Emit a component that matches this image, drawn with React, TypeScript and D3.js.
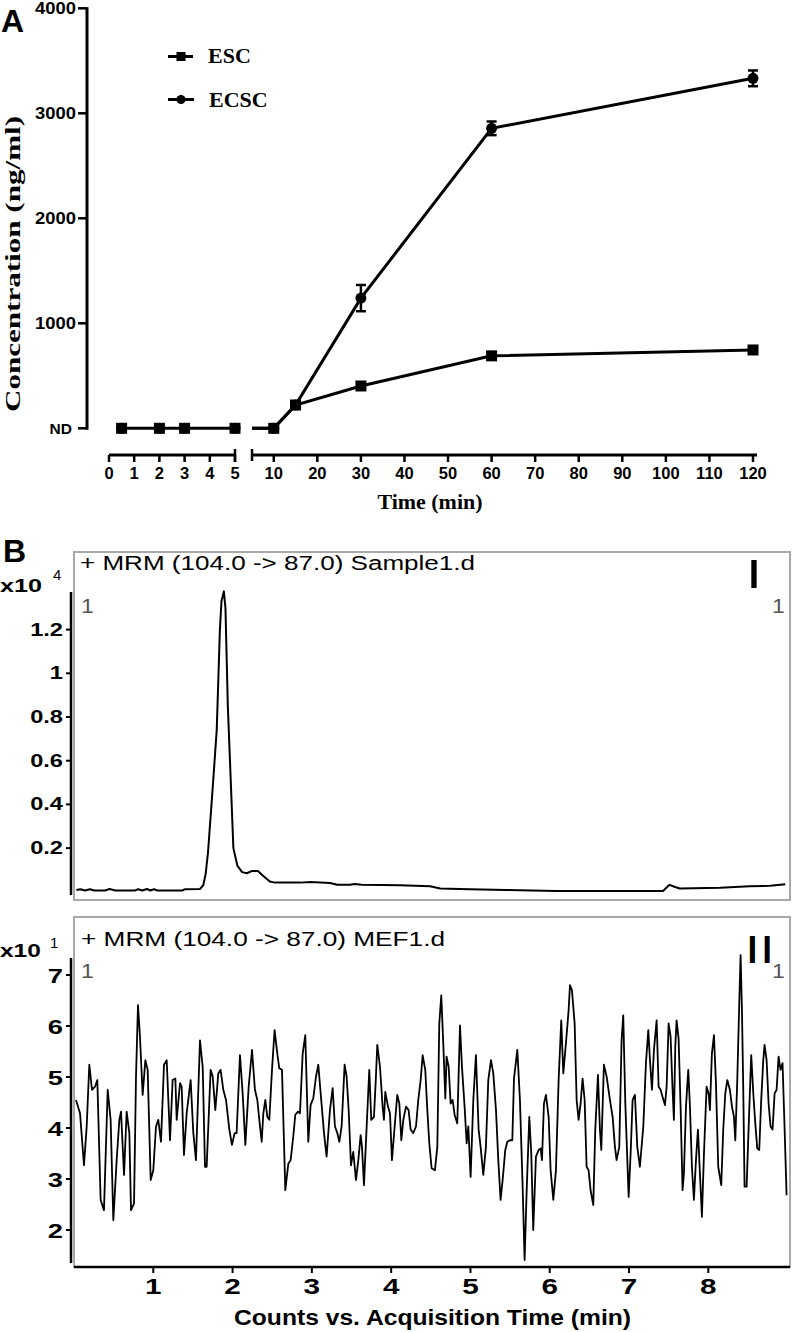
import React from "react";
import * as d3 from "d3";

// ---------- Panel A data ----------
const timePoints = [0.5, 2, 3, 5, 10, 15, 30, 60, 120];
const escValues = [0, 0, 0, 0, 0, 222, 403, 690, 746];
const ecscValues = [0, 0, 0, 0, 0, 222, 1240, 2857, 3333];
const ecscErrors = [0, 0, 0, 0, 0, 0, 125, 65, 75];
const yTicksA = [1000, 2000, 3000, 4000];
const xTicksLeft = [0, 1, 2, 3, 4, 5];
const xTicksRight = [10, 20, 30, 40, 50, 60, 70, 80, 90, 100, 110, 120];

// ---------- Panel B-I data (x10^4 counts) ----------
const sampleTime = [0.03, 0.08, 0.14, 0.2, 0.26, 0.39, 0.45, 0.52, 0.77, 0.81, 0.86, 0.92, 0.96, 1.01, 1.05, 1.37, 1.4, 1.59, 1.63, 1.66, 1.69, 1.75, 1.8, 1.84, 1.86, 1.89, 1.91, 1.94, 1.98, 2.01, 2.06, 2.12, 2.18, 2.24, 2.32, 2.38, 2.47, 2.53, 2.85, 2.98, 3.23, 3.32, 3.48, 3.54, 3.63, 4.11, 4.49, 4.62, 4.99, 5.45, 6.08, 7.43, 7.46, 7.51, 7.58, 7.64, 8.15, 8.52, 8.78, 8.97];
const sampleCounts = [0.008, 0.012, 0.006, 0.012, 0.006, 0.006, 0.013, 0.006, 0.006, 0.012, 0.006, 0.013, 0.006, 0.012, 0.006, 0.006, 0.012, 0.013, 0.03, 0.08, 0.18, 0.48, 0.74, 1.2, 1.33, 1.375, 1.3, 0.85, 0.48, 0.2, 0.12, 0.09, 0.085, 0.095, 0.095, 0.075, 0.047, 0.042, 0.042, 0.045, 0.04, 0.032, 0.032, 0.036, 0.032, 0.03, 0.025, 0.015, 0.012, 0.008, 0.004, 0.004, 0.015, 0.032, 0.022, 0.015, 0.018, 0.025, 0.028, 0.035];
const sampleYTicks = [0.2, 0.4, 0.6, 0.8, 1, 1.2];

// ---------- Panel B-II data (x10^1 counts) ----------
const mefPoints: [number, number][] = [
  [0.025,4.55],[0.076,4.29],[0.126,3.27],[0.160,4.03],[0.193,5.24],[0.227,4.75],[0.265,4.81],[0.294,4.94],[0.336,2.59],[0.378,2.39],[0.425,4.75],[0.462,4.16],[0.496,2.19],[0.538,3.37],[0.572,4.16],[0.593,4.32],[0.631,3.08],[0.664,4.32],[0.698,3.90],[0.719,2.39],[0.757,2.52],[0.782,5.01],[0.807,6.41],[0.832,5.79],[0.866,4.65],[0.900,5.33],[0.929,5.14],[0.967,2.98],[1.000,3.17],[1.034,4.03],[1.063,4.16],[1.097,3.73],[1.135,5.24],[1.169,5.33],[1.211,3.76],[1.244,4.94],[1.278,4.97],[1.295,4.16],[1.337,4.88],[1.358,4.81],[1.387,3.47],[1.421,4.29],[1.471,4.94],[1.505,3.90],[1.538,3.37],[1.589,5.72],[1.623,5.20],[1.652,3.24],[1.673,3.24],[1.723,5.14],[1.749,5.01],[1.782,4.35],[1.820,5.07],[1.849,5.14],[1.883,4.75],[1.917,4.55],[1.959,3.97],[1.992,3.67],[2.026,3.90],[2.051,3.90],[2.093,5.43],[2.127,4.68],[2.161,3.67],[2.203,4.81],[2.245,5.53],
  [2.282,4.75],[2.312,4.55],[2.337,4.16],[2.367,3.73],[2.388,4.29],[2.413,4.55],[2.438,4.22],[2.463,4.16],[2.497,5.14],[2.530,5.92],[2.564,5.46],[2.589,5.17],[2.623,5.14],[2.665,2.78],[2.703,3.30],[2.732,3.37],[2.766,3.84],[2.791,4.26],[2.825,4.32],[2.850,4.29],[2.884,5.46],[2.917,5.82],[2.955,3.73],[2.984,4.45],[3.018,4.58],[3.052,5.01],[3.081,5.24],[3.111,4.68],[3.153,3.90],[3.186,3.44],[3.228,4.35],[3.262,4.78],[3.291,4.03],[3.321,3.90],[3.346,3.73],[3.375,4.03],[3.413,5.24],[3.438,5.01],[3.464,4.35],[3.493,3.27],[3.522,3.53],[3.556,2.98],[3.586,3.37],[3.615,3.86],[3.632,3.63],[3.657,2.88],[3.691,4.03],[3.724,5.14],[3.749,4.16],[3.783,4.22],[3.808,5.01],[3.825,5.63],[3.859,5.20],[3.892,4.42],[3.909,4.16],[3.926,4.71],[3.960,4.42],[3.985,4.29],[4.010,3.37],[4.044,4.03],[4.077,4.65],[4.103,4.48],[4.128,3.76],[4.153,4.16],[4.187,4.42],[4.220,4.35],[4.246,3.97],[4.279,3.90],[4.313,4.03],[4.342,4.55],[4.372,4.94],[4.397,5.43],[4.430,5.14],[4.456,4.35],[4.481,3.70],[4.510,3.21],[4.552,3.17],
  [4.582,3.63],[4.607,6.05],[4.632,6.60],[4.657,5.66],[4.683,4.58],[4.699,5.40],[4.725,5.20],[4.750,4.48],[4.775,4.55],[4.800,4.26],[4.834,4.09],[4.868,6.01],[4.893,5.20],[4.926,4.42],[4.952,3.70],[4.973,4.03],[5.002,3.04],[5.036,4.55],[5.069,5.43],[5.103,3.97],[5.128,3.63],[5.162,3.08],[5.195,3.63],[5.225,4.94],[5.259,5.33],[5.288,5.07],[5.322,4.35],[5.351,3.37],[5.380,2.59],[5.406,2.98],[5.439,3.57],[5.465,3.73],[5.498,3.76],[5.528,3.76],[5.549,4.97],[5.591,5.53],[5.624,4.55],[5.658,2.85],[5.683,1.41],[5.708,2.72],[5.742,4.22],[5.767,3.50],[5.792,2.00],[5.826,3.44],[5.860,3.57],[5.885,3.60],[5.902,3.37],[5.927,4.48],[5.952,4.65],[5.986,4.22],[6.011,3.17],[6.045,2.59],[6.078,3.17],[6.112,4.94],[6.145,6.11],[6.171,5.07],[6.204,5.66],[6.238,6.31],[6.255,6.80],[6.280,6.70],[6.314,6.05],[6.339,4.55],[6.364,4.16],[6.389,4.48],[6.414,4.97],[6.440,4.55],[6.465,3.24],[6.490,3.17],[6.515,2.78],[6.549,2.49],[6.574,3.97],[6.608,5.04],[6.633,3.97],[6.650,3.57],[6.683,5.24],[6.717,5.01],[6.759,4.55],
  [6.793,4.22],[6.822,3.63],[6.843,3.37],[6.877,3.63],[6.906,5.72],[6.927,6.21],[6.953,4.48],[6.995,2.65],[7.020,3.50],[7.045,4.55],[7.074,4.65],[7.104,3.63],[7.137,3.24],[7.180,4.03],[7.213,5.27],[7.243,5.92],[7.264,5.33],[7.289,4.75],[7.314,5.53],[7.348,6.11],[7.373,4.81],[7.398,4.75],[7.423,4.61],[7.453,4.45],[7.474,4.81],[7.499,6.05],[7.524,5.79],[7.549,4.75],[7.566,4.16],[7.583,5.59],[7.600,6.11],[7.625,5.75],[7.650,4.42],[7.675,2.78],[7.692,3.11],[7.718,4.42],[7.747,5.14],[7.768,4.42],[7.793,3.24],[7.818,2.59],[7.844,3.37],[7.869,3.97],[7.894,3.11],[7.919,2.26],[7.945,3.50],[7.978,4.81],[8.003,4.68],[8.020,4.35],[8.045,5.46],[8.071,5.82],[8.096,4.88],[8.125,3.24],[8.163,2.88],[8.188,3.97],[8.214,4.68],[8.239,4.94],[8.272,4.75],[8.298,4.42],[8.323,4.22],[8.340,3.76],[8.365,4.94],[8.390,6.44],[8.407,7.39],[8.424,6.31],[8.440,4.81],[8.457,2.85],[8.483,2.85],[8.516,4.35],[8.541,5.43],[8.567,4.68],[8.592,4.09],[8.617,3.60],[8.642,3.57],[8.667,4.55],[8.693,5.33],[8.709,5.63],[8.735,5.33],[8.760,4.48],[8.785,4.03],[8.810,3.97],[8.836,4.68],[8.861,4.75],[8.886,5.40],[8.911,5.14],[8.936,5.27],[8.961,4.03],[8.987,2.68],
];
const mefYTicks = [2, 3, 4, 5, 6, 7];
const timeTicksB = [1, 2, 3, 4, 5, 6, 7, 8];

const SANS = "'Liberation Sans', Arial, Helvetica, sans-serif";
const SERIF = "'Liberation Serif', 'Times New Roman', serif";

type TP = {
  x: number; y: number; size: number; children: React.ReactNode;
  weight?: string; anchor?: string; family?: string; fill?: string;
  sx?: number; rotate?: number; len?: number;
};
function T({ x, y, size, children, weight = "normal", anchor = "start", family = SANS, fill = "#000", sx = 1, rotate = 0, len }: TP) {
  return (
    <text
      transform={`translate(${x},${y}) rotate(${rotate}) scale(${sx},1)`}
      fontSize={size}
      fontWeight={weight}
      fontFamily={family}
      textAnchor={anchor as any}
      fill={fill}
      textLength={len}
      lengthAdjust={len ? "spacingAndGlyphs" : undefined}
    >
      {children}
    </text>
  );
}

export default function App() {
  // ---------- Panel A scales ----------
  const yA = d3.scaleLinear().domain([0, 4000]).range([428.3, 8.3]);
  const xL = d3.scaleLinear().domain([0, 5]).range([109, 235]);
  const xR = d3.scaleLinear().domain([5, 120]).range([252, 753]);
  const xA = (t: number) => (t <= 5 ? xL(t) : xR(t));
  const axisYA = 455;

  const leftIdx = timePoints.map((t, i) => i).filter((i) => timePoints[i] <= 5);
  const rightIdx = timePoints.map((t, i) => i).filter((i) => timePoints[i] >= 5);

  const lineL = d3.line<number>().x((i) => xL(timePoints[i])).y((i) => yA(escValues[i]));
  const lineRE = d3.line<number>().x((i) => xR(timePoints[i])).y((i) => yA(escValues[i]));
  const lineRC = d3.line<number>().x((i) => xR(timePoints[i])).y((i) => yA(ecscValues[i]));

  // ---------- Panel B scales ----------
  const xB = d3.scaleLinear().domain([0, 9.03]).range([74, 790]);
  const yI = d3.scaleLinear().domain([0, 1.2]).range([891.8, 629.6]);
  const yII = d3.scaleLinear().domain([2, 7]).range([1230, 975]);
  const lineI = d3.line<number>().x((i) => xB(sampleTime[i])).y((i) => yI(sampleCounts[i]));
  const lineII = d3.line<[number, number]>().x((d) => xB(d[0])).y((d) => yII(d[1]));

  const sq = 11;
  return (
    <svg width={792} height={1332} style={{ position: "absolute", left: 0, top: 0, background: "#fff" }}>
      <rect x={0} y={0} width={792} height={1332} fill="#fff" />
      {/* ================= Panel A ================= */}
      <T x={1} y={32} size={32} weight="bold">A</T>
      {/* y axis */}
      <line x1={87} x2={87} y1={yA(4000) - 1} y2={yA(0) + 1.5} stroke="#000" strokeWidth={3} />
      {yTicksA.map((v) => (
        <g key={v}>
          <line x1={78} x2={87} y1={yA(v)} y2={yA(v)} stroke="#000" strokeWidth={2.5} />
          <T x={76} y={yA(v) + 6} size={16} weight="bold" anchor="end" sx={1.15}>{String(v)}</T>
        </g>
      ))}
      <line x1={78} x2={87} y1={yA(0)} y2={yA(0)} stroke="#000" strokeWidth={2.5} />
      <T x={72} y={yA(0) + 6} size={15.5} weight="bold" anchor="end">ND</T>
      <T x={20} y={264} size={20} weight="bold" family={SERIF} anchor="middle" rotate={-90} len={296}>Concentration (ng/ml)</T>

      {/* x axis segments */}
      <line x1={xL(0)} x2={xL(5)} y1={axisYA} y2={axisYA} stroke="#000" strokeWidth={3} />
      <line x1={xL(5)} x2={xL(5)} y1={axisYA - 6} y2={axisYA + 7} stroke="#000" strokeWidth={2.5} />
      {xTicksLeft.map((t) => (
        <g key={"l" + t}>
          <line x1={xL(t)} x2={xL(t)} y1={axisYA} y2={axisYA + 7} stroke="#000" strokeWidth={2.5} />
          <T x={xL(t)} y={479} size={16.5} weight="bold" anchor="middle">{String(t)}</T>
        </g>
      ))}
      <line x1={xR(5)} x2={xR(120) + 4} y1={axisYA} y2={axisYA} stroke="#000" strokeWidth={3} />
      <line x1={xR(5)} x2={xR(5)} y1={axisYA - 6} y2={axisYA + 6} stroke="#000" strokeWidth={2.5} />
      {xTicksRight.map((t) => (
        <g key={"r" + t}>
          <line x1={xR(t)} x2={xR(t)} y1={axisYA} y2={axisYA + 7} stroke="#000" strokeWidth={2.5} />
          <T x={xR(t)} y={479} size={16.5} weight="bold" anchor="middle">{String(t)}</T>
        </g>
      ))}
      <T x={430} y={509} size={20.5} weight="bold" family={SERIF} anchor="middle" len={105}>Time (min)</T>

      {/* series lines */}
      <path d={lineL(leftIdx) || ""} fill="none" stroke="#000" strokeWidth={3} />
      <path d={lineRE(rightIdx) || ""} fill="none" stroke="#000" strokeWidth={3} />
      <path d={lineRC(rightIdx) || ""} fill="none" stroke="#000" strokeWidth={3} />
      {/* error bars ECSC */}
      {timePoints.map((t, i) =>
        ecscErrors[i] > 0 ? (
          <g key={"e" + i} stroke="#000" strokeWidth={2.5}>
            <line x1={xA(t)} x2={xA(t)} y1={yA(ecscValues[i] - ecscErrors[i])} y2={yA(ecscValues[i] + ecscErrors[i])} />
            <line x1={xA(t) - 5} x2={xA(t) + 5} y1={yA(ecscValues[i] - ecscErrors[i])} y2={yA(ecscValues[i] - ecscErrors[i])} />
            <line x1={xA(t) - 5} x2={xA(t) + 5} y1={yA(ecscValues[i] + ecscErrors[i])} y2={yA(ecscValues[i] + ecscErrors[i])} />
          </g>
        ) : null
      )}
      {timePoints.map((t, i) => (
        <circle key={"c" + i} cx={xA(t)} cy={yA(ecscValues[i])} r={5.5} fill="#000" />
      ))}
      {timePoints.map((t, i) => (
        <rect key={"s" + i} x={xA(t) - sq / 2} y={yA(escValues[i]) - sq / 2} width={sq} height={sq} fill="#000" />
      ))}
      {/* legend */}
      <line x1={168} x2={193} y1={56.5} y2={56.5} stroke="#000" strokeWidth={3} />
      <rect x={176.5} y={52} width={9} height={9} fill="#000" />
      <T x={208} y={63} size={22} weight="bold" family={SERIF}>ESC</T>
      <line x1={168} x2={194} y1={99.5} y2={99.5} stroke="#000" strokeWidth={3} />
      <circle cx={181} cy={99.5} r={4.5} fill="#000" />
      <T x={209} y={107} size={22} weight="bold" family={SERIF}>ECSC</T>

      {/* ================= Panel B ================= */}
      <T x={3} y={562} size={32} weight="bold">B</T>

      {/* --- chart I --- */}
      <rect x={74} y={552} width={716} height={348} fill="none" stroke="#a8a8a8" strokeWidth={2} />
      <T x={80} y={570} size={19.5} len={395}>+ MRM (104.0 -&gt; 87.0) Sample1.d</T>
      <T x={0} y={592} size={18} weight="bold" sx={1.4}>x10</T>
      <T x={53} y={580} size={15}>4</T>
      <T x={81} y={613} size={20} fill="#555" sx={1.15}>1</T>
      <T x={772} y={613} size={20} fill="#555" sx={1.15}>1</T>
      <T x={746} y={588} size={41} sx={1.4}>I</T>
      <line x1={71} x2={71} y1={592} y2={895} stroke="#000" strokeWidth={2.5} />
      {sampleYTicks.map((v) => (
        <g key={"yi" + v}>
          <line x1={66} x2={71} y1={yI(v)} y2={yI(v)} stroke="#000" strokeWidth={2} />
          <T x={63} y={yI(v) + 6} size={17.5} weight="bold" anchor="end" sx={1.35}>{String(v)}</T>
        </g>
      ))}
      <path d={lineI(sampleTime.map((_, i) => i)) || ""} fill="none" stroke="#000" strokeWidth={2} strokeLinejoin="round" />

      {/* --- chart II --- */}
      <rect x={74} y={917} width={716} height={350} fill="none" stroke="#a8a8a8" strokeWidth={2} />
      <T x={81} y={946} size={19.5} len={364}>+ MRM (104.0 -&gt; 87.0) MEF1.d</T>
      <T x={0} y={957} size={17.5} weight="bold" sx={1.4}>x10</T>
      <T x={50} y={948} size={15}>1</T>
      <T x={81} y={978} size={20} fill="#555" sx={1.15}>1</T>
      <T x={772} y={978} size={20} fill="#555" sx={1.15}>1</T>
      <T x={745} y={963} size={38} sx={1.4}>II</T>
      <line x1={71} x2={71} y1={958} y2={1263} stroke="#000" strokeWidth={2.5} />
      {mefYTicks.map((v) => (
        <g key={"yii" + v}>
          <line x1={66} x2={71} y1={yII(v)} y2={yII(v)} stroke="#000" strokeWidth={2} />
          <T x={63} y={yII(v) + 8} size={21} weight="bold" anchor="end" sx={1.3}>{String(v)}</T>
        </g>
      ))}
      <path d={lineII(mefPoints) || ""} fill="none" stroke="#000" strokeWidth={1.8} strokeLinejoin="round" />
      <line x1={74} x2={790} y1={1267} y2={1267} stroke="#000" strokeWidth={2.5} />
      {timeTicksB.map((t) => (
        <g key={"xb" + t}>
          <line x1={xB(t)} x2={xB(t)} y1={1267} y2={1273} stroke="#000" strokeWidth={2} />
          <T x={xB(t)} y={1294} size={22} weight="bold" anchor="middle" sx={1.35}>{String(t)}</T>
        </g>
      ))}
      <T x={234} y={1325} size={22} weight="bold" len={397}>Counts vs. Acquisition Time (min)</T>
    </svg>
  );
}
